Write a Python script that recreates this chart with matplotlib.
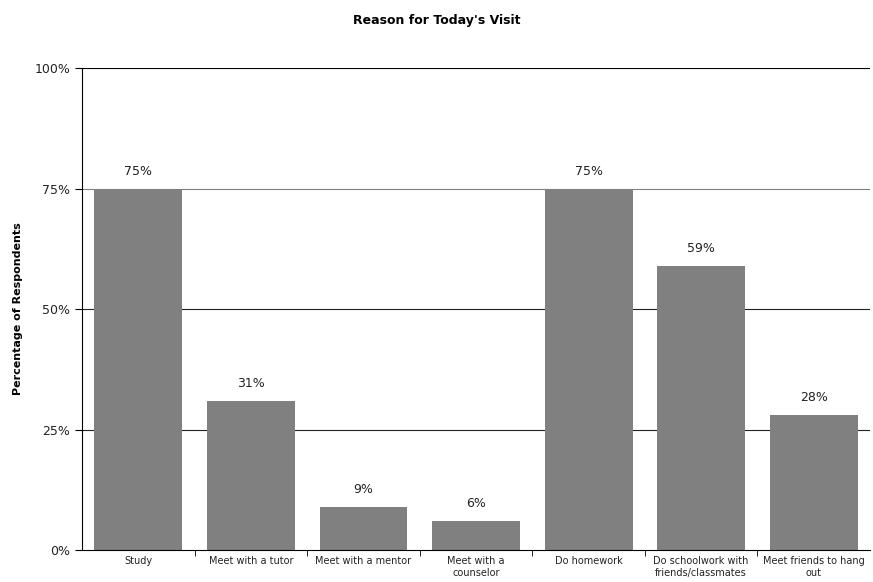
import matplotlib; matplotlib.use("Agg")
import matplotlib.pyplot as plt
import numpy as np
from matplotlib.ticker import FixedLocator, NullFormatter

categories = ["Study", "Meet with a tutor", "Meet with a mentor", "Meet with a\ncounselor",
              "Do homework", "Do schoolwork with\nfriends/classmates", "Meet friends to hang\nout"]
values = [75, 31, 9, 6, 75, 59, 28]
yticks = [0, 25, 50, 75, 100]

plt.rcParams["font.family"] = ["DejaVu Sans"]

fig = plt.figure(figsize=(8.73, 5.82), dpi=100)
ax = fig.add_axes([0.094, 0.055, 0.9026, 0.828])

x = np.arange(len(categories))
bars = ax.bar(x, values, width=0.78, color="#808080", zorder=2)
for b, v in zip(bars, values):
    ax.text(b.get_x() + b.get_width() / 2, v + 2.2, f"{v}%", ha="center", va="bottom",
            fontsize=9, color="#222222")

ax.set_xlim(-0.5, len(categories) - 0.5)
ax.set_ylim(0, 100)
ax.set_yticks(yticks)
ax.set_yticklabels([f"{t}%" for t in yticks], fontsize=9, color="#222222")
# gridlines sit behind the bars
for t, c in [(25, "#222222"), (50, "#222222"), (75, "#808080"), (100, "black")]:
    ax.axhline(t, color=c, lw=0.8, zorder=1)

ax.set_xticks(x)
ax.set_xticklabels(categories, fontsize=7, va="top", linespacing=1.3, color="#222222")
ax.tick_params(axis="x", which="major", length=0, pad=4)
ax.xaxis.set_minor_locator(FixedLocator(np.arange(0.5, len(categories) - 1, 1.0)))
ax.xaxis.set_minor_formatter(NullFormatter())
ax.tick_params(axis="x", which="minor", length=4, direction="out")
ax.tick_params(axis="y", length=5, direction="out")

for s in ["top", "right"]:
    ax.spines[s].set_visible(False)

ax.set_ylabel("Percentage of Respondents", fontsize=8, fontweight="bold", labelpad=8)
fig.text(0.5, 0.965, "Reason for Today's Visit", ha="center", va="center", fontsize=9, fontweight="bold")

fig.savefig("out.png", dpi=100)
